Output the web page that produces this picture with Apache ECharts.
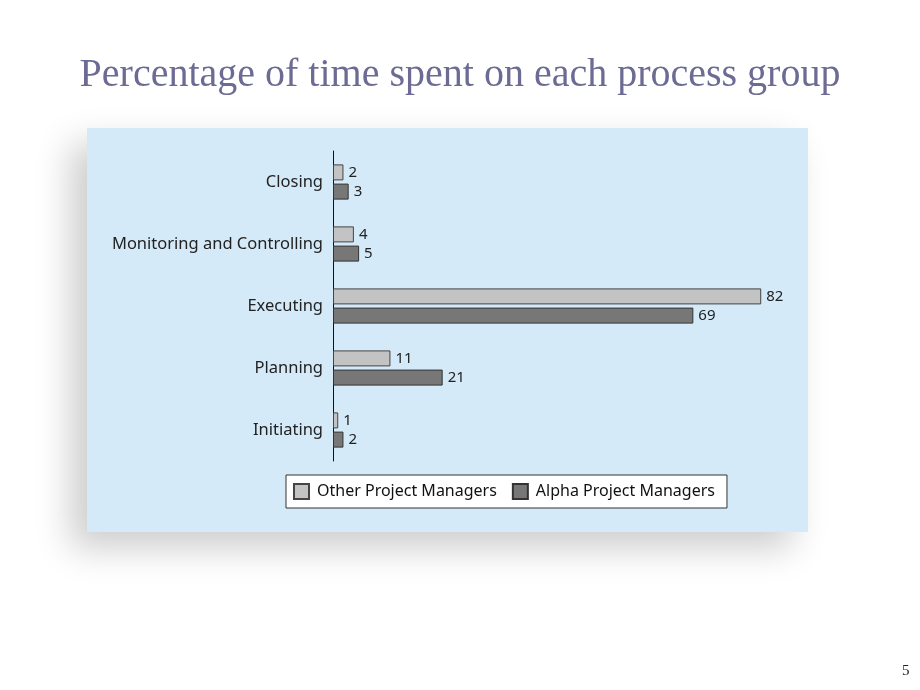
<!DOCTYPE html>
<html>
<head>
<meta charset="utf-8">
<script src="https://cdn.jsdelivr.net/npm/echarts@6/dist/echarts.min.js"></script>
<style>html,body{margin:0;padding:0;background:#fff}#c{width:920px;height:690px}</style>
</head>
<body>
<div id="c"></div>
<script>
var categories = ['Initiating', 'Planning', 'Executing', 'Monitoring and Controlling', 'Closing'];
var otherPM = [1, 11, 82, 4, 2];
var alphaPM = [2, 21, 69, 5, 3];
var seriesNames = ['Other Project Managers', 'Alpha Project Managers'];

var chart = echarts.init(document.getElementById('c'), null, {renderer: 'canvas'});
var labelStyle = {show: true, position: 'right', distance: 5, fontSize: 15, color: '#222', fontFamily: 'Noto Sans'};
chart.setOption({
  backgroundColor: '#fff',
  animation: false,
  title: {
    text: 'Percentage of time spent on each process group',
    left: 'center', top: 50,
    textStyle: {fontFamily: 'Liberation Serif', fontWeight: 'normal', fontSize: 40, color: '#6b6b93'}
  },
  graphic: [
    {type: 'rect', z: -10, shape: {x: 87, y: 128, width: 721, height: 404},
     style: {fill: '#d5eaf8', shadowBlur: 34, shadowColor: 'rgba(0,0,0,0.2)', shadowOffsetX: -16, shadowOffsetY: 16}},
    {type: 'text', left: 902, top: 664, style: {text: '5', fontFamily: 'Liberation Serif', fontSize: 15, fill: '#222'}}
  ],
  legend: {
    data: seriesNames,
    left: 286, top: 475,
    backgroundColor: '#fff', borderColor: '#333', borderWidth: 1,
    padding: [8, 12, 8, 7],
    icon: 'rect',
    itemWidth: 15, itemHeight: 15, itemGap: 15,
    textStyle: {fontFamily: 'Noto Sans', fontSize: 16, color: '#111', padding: [0, 0, 0, 3]}
  },
  grid: {left: 333, top: 151, width: 470, height: 310, containLabel: false},
  xAxis: {type: 'value', min: 0, max: 90, show: false},
  yAxis: {
    type: 'category', data: categories,
    axisLine: {show: true, lineStyle: {color: '#111', width: 1}},
    axisTick: {show: false},
    axisLabel: {margin: 10, fontSize: 16.5, color: '#222', fontFamily: 'Noto Sans'},
    splitLine: {show: false}
  },
  series: [
    {name: seriesNames[0], type: 'bar', data: otherPM, barWidth: 16, barGap: '20%',
     itemStyle: {color: '#c3c3c3', borderColor: '#444', borderWidth: 1}, label: labelStyle},
    {name: seriesNames[1], type: 'bar', data: alphaPM, barWidth: 16, barGap: '20%',
     itemStyle: {color: '#777777', borderColor: '#333', borderWidth: 1}, label: labelStyle}
  ]
});
</script>
</body>
</html>
